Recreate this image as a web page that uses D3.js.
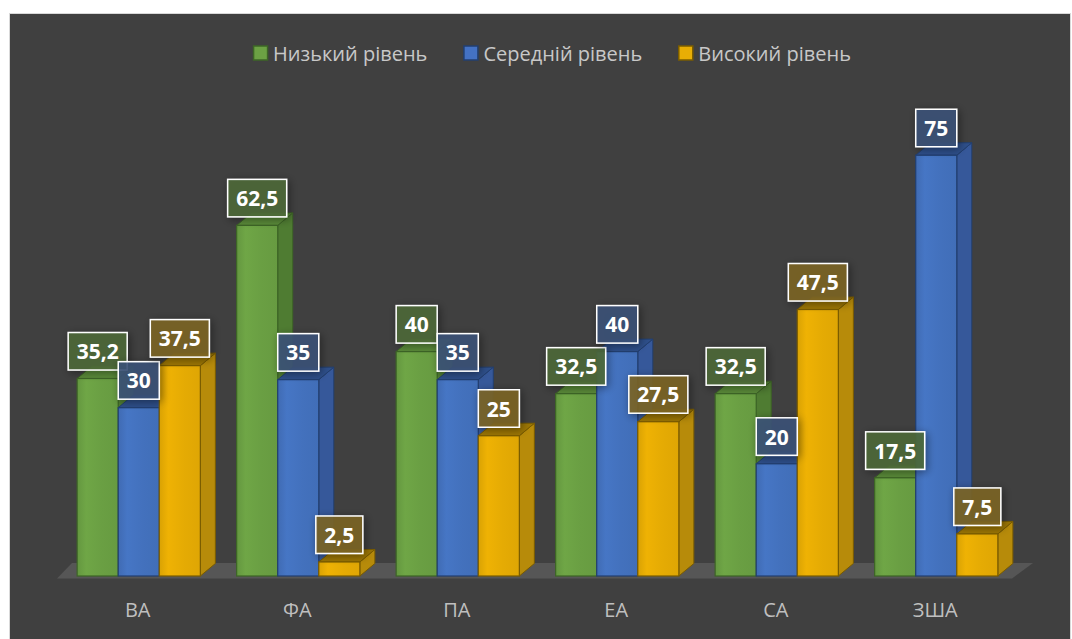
<!DOCTYPE html>
<html>
<head>
<meta charset="utf-8">
<script src="https://cdn.jsdelivr.net/npm/d3@7/dist/d3.min.js"></script>
<style>
  html, body { margin: 0; padding: 0; background: #ffffff; }
  svg { display: block; }
</style>
</head>
<body>
<svg id="chart" width="1072" height="639"></svg>
<script>
// ---- data ----
const categories = ["ВА", "ФА", "ПА", "ЕА", "СА", "ЗША"];
const seriesNames = ["Низький рівень", "Середній рівень", "Високий рівень"];
const lowValues = [35.2, 62.5, 40, 32.5, 32.5, 17.5];
const midValues = [30, 35, 35, 40, 20, 75];
const highValues = [37.5, 2.5, 25, 27.5, 47.5, 7.5];
const seriesValues = [lowValues, midValues, highValues];

// ---- styles ----
const palette = [
  { front: "#6a9f43", side: "#4f7c32", top: "#5a8a39", edge: "#3d6526", label: "#4d6a3a", legend: "#6ca144", legendEdge: "#3d6526" },
  { front: "#4371bd", side: "#36589a", top: "#2e4f8a", edge: "#223f70", label: "#3c5278", legend: "#4472c4", legendEdge: "#223f70" },
  { front: "#e5ab04", side: "#b78b0a", top: "#9c7604", edge: "#7a5c00", label: "#7c6424", legend: "#e8ae05", legendEdge: "#7a5c00" }
];

const svg = d3.select("#chart");
const W = 1072, H = 639;

// frame
svg.append("rect").attr("x", 9.5).attr("y", 13.5).attr("width", 1061).attr("height", 640)
  .attr("fill", "#404040").attr("stroke", "#d9d9d9").attr("stroke-width", 1);

const defs = svg.append("defs");
const shadow = defs.append("filter").attr("id", "lblShadow").attr("x", "-40%").attr("y", "-40%").attr("width", "180%").attr("height", "180%");
shadow.append("feGaussianBlur").attr("in", "SourceAlpha").attr("stdDeviation", 4).attr("result", "b");
shadow.append("feOffset").attr("in", "b").attr("dx", 2).attr("dy", 2).attr("result", "o");
shadow.append("feComponentTransfer").attr("in", "o").attr("result", "s")
  .append("feFuncA").attr("type", "linear").attr("slope", 0.45);
const fm = shadow.append("feMerge");
fm.append("feMergeNode").attr("in", "s");
fm.append("feMergeNode").attr("in", "SourceGraphic");

palette.forEach((p, i) => {
  const g = defs.append("linearGradient").attr("id", "fg" + i).attr("x1", "0").attr("x2", "1").attr("y1", "0").attr("y2", "0");
  const c = d3.color(p.front);
  g.append("stop").attr("offset", "0%").attr("stop-color", c.darker(0.15));
  g.append("stop").attr("offset", "22%").attr("stop-color", c.brighter(0.12));
  g.append("stop").attr("offset", "60%").attr("stop-color", c);
  g.append("stop").attr("offset", "100%").attr("stop-color", c.darker(0.08));
});

// ---- scales ----
const x = d3.scaleBand().domain(categories).range([59, 1016]).paddingInner(0.2275).paddingOuter(0.11375);
const xs = d3.scaleBand().domain(d3.range(seriesNames.length)).range([0, x.bandwidth()]);
const y = d3.scaleLinear().domain([0, 80]).range([576, 576 - 80 * 5.61]);
const DX = 15, DY = 12.5;

// floor
const y0 = y(0);
const [rx0, rx1] = x.range();
svg.append("polygon")
  .attr("points", [[rx0 - 2, y0 + 2.5], [rx1 - 4, y0 + 2.5], [rx1 + 17, y0 - 13], [rx0 + 13, y0 - 13]].map(p => p.join(",")).join(" "))
  .attr("fill", "#565656");

// bars
const plot = svg.append("g");
categories.forEach((cat, ci) => {
  seriesValues.forEach((vals, si) => {
    const p = palette[si];
    const v = vals[ci];
    const bx = x(cat) + xs(si);
    const bw = xs.bandwidth();
    const top = y(v), bot = y(0);
    const g = plot.append("g");
    // side
    g.append("polygon")
      .attr("points", [[bx + bw, bot], [bx + bw + DX, bot - DY], [bx + bw + DX, top - DY], [bx + bw, top]].map(q => q.join(",")).join(" "))
      .attr("fill", p.side).attr("stroke", p.edge).attr("stroke-width", 1).attr("stroke-linejoin", "round");
    // top
    g.append("polygon")
      .attr("points", [[bx, top], [bx + DX, top - DY], [bx + bw + DX, top - DY], [bx + bw, top]].map(q => q.join(",")).join(" "))
      .attr("fill", p.top).attr("stroke", p.edge).attr("stroke-width", 1).attr("stroke-linejoin", "round");
    // front
    g.append("rect").attr("x", bx).attr("y", top).attr("width", bw).attr("height", bot - top)
      .attr("fill", "url(#fg" + si + ")").attr("stroke", p.edge).attr("stroke-width", 1.2);
  });
});

// data labels
const labels = svg.append("g");
categories.forEach((cat, ci) => {
  seriesValues.forEach((vals, si) => {
    const p = palette[si];
    const v = vals[ci];
    const cx = x(cat) + xs(si) + xs.bandwidth() / 2;
    const txt = String(v).replace(".", ",");
    const g = labels.append("g");
    const t = g.append("text").attr("x", cx).attr("y", 0)
      .attr("text-anchor", "middle").attr("font-family", "'Open Sans', sans-serif")
      .attr("font-weight", "bold").attr("font-size", 21).attr("fill", "#ffffff").text(txt);
    const tw = t.node().getComputedTextLength();
    const bh = 37.5, bw = tw + 17;
    const byBottom = y(v) - 8.5;
    g.insert("rect", "text").attr("x", cx - bw / 2).attr("y", byBottom - bh).attr("width", bw).attr("height", bh)
      .attr("fill", p.label).attr("fill-opacity", 0.88).attr("stroke", "#ffffff").attr("stroke-width", 1.5)
      .attr("filter", "url(#lblShadow)");
    t.attr("y", byBottom - bh / 2).attr("dominant-baseline", "central");
  });
});

// category labels
svg.append("g").selectAll("text").data(categories).join("text")
  .attr("x", d => x(d) + x.bandwidth() / 2 - 1)
  .attr("y", 617)
  .attr("text-anchor", "middle")
  .attr("font-family", "'Open Sans', sans-serif").attr("font-size", 20)
  .attr("fill", "#bfbfbf").text(d => d);

// legend
const legend = svg.append("g");
const items = seriesNames.map((name, i) => {
  const g = legend.append("g");
  g.append("rect").attr("x", 0.5).attr("y", -7).attr("width", 14).attr("height", 14)
    .attr("fill", palette[i].legend).attr("stroke", palette[i].legendEdge).attr("stroke-width", 1.5);
  const t = g.append("text").attr("x", 20).attr("y", 0).attr("dominant-baseline", "central")
    .attr("font-family", "'Open Sans', sans-serif").attr("font-size", 20)
    .attr("fill", "#c8c8c8").text(name);
  return { g, w: 20 + t.node().getComputedTextLength() };
});
const gap = 36;
const total = d3.sum(items, d => d.w) + gap * (items.length - 1);
let lx = 552 - total / 2;
items.forEach(it => { it.g.attr("transform", `translate(${lx},53)`); lx += it.w + gap; });
</script>
</body>
</html>
